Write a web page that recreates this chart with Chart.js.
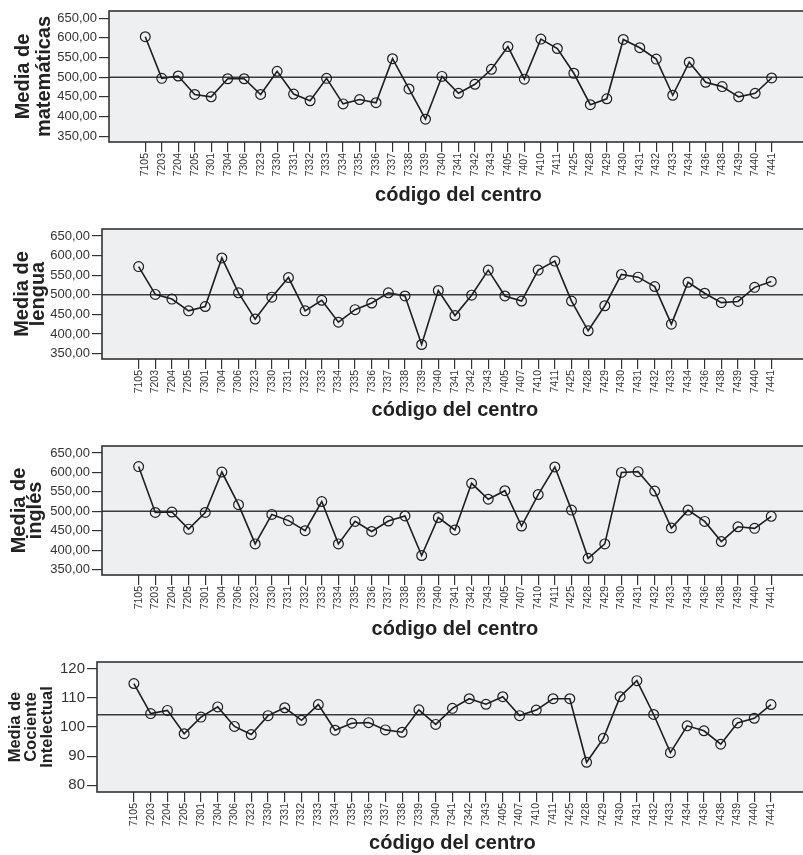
<!DOCTYPE html>
<html>
<head>
<meta charset="utf-8">
<script src="https://cdn.jsdelivr.net/npm/chart.js@4/dist/chart.umd.min.js"></script>
<style>
  html, body { margin: 0; padding: 0; background: #fff; overflow: hidden; }
  #wrap { position: relative; width: 803px; height: 855px; overflow: hidden; }
  #wrap canvas { position: absolute; left: 0; }
</style>
</head>
<body>
<div id="wrap">
  <canvas id="c1" width="814" height="215" style="top:0px"></canvas>
  <canvas id="c2" width="814" height="215" style="top:215px"></canvas>
  <canvas id="c3" width="814" height="215" style="top:430px"></canvas>
  <canvas id="c4" width="814" height="210" style="top:645px"></canvas>
</div>
<script>
// ==== DATA ====
const codes = ["7105", "7203", "7204", "7205", "7301", "7304", "7306", "7323", "7330", "7331",
  "7332", "7333", "7334", "7335", "7336", "7337", "7338", "7339", "7340", "7341",
  "7342", "7343", "7405", "7407", "7410", "7411", "7425", "7428", "7429", "7430",
  "7431", "7432", "7433", "7434", "7436", "7438", "7439", "7440", "7441"];

const mathMeans = [603, 497, 503, 456, 450, 496, 496, 456, 515, 457,
  440, 497, 432, 443, 435, 547, 470, 393, 502, 459,
  482, 520, 578, 495, 597, 573, 510, 430, 445, 596,
  575, 546, 454, 538, 487, 476, 450, 459, 498];

const langMeans = [572, 501, 489, 459, 470, 594, 505, 438, 494, 544,
  459, 486, 430, 462, 479, 505, 497, 373, 511, 447,
  499, 563, 497, 484, 563, 586, 484, 408, 472, 552,
  545, 521, 425, 532, 504, 480, 483, 519, 534];

const englishMeans = [615, 497, 498, 454, 497, 601, 517, 416, 492, 476,
  450, 525, 416, 474, 448, 475, 488, 386, 484, 452,
  572, 531, 553, 462, 543, 614, 503, 379, 416, 600,
  602, 552, 457, 503, 474, 422, 460, 456, 487];

const iqMeans = [114.9, 104.6, 105.7, 97.7, 103.4, 106.9, 100.2, 97.4, 103.9, 106.6,
  102.3, 107.7, 98.9, 101.3, 101.5, 99.0, 98.2, 105.9, 100.9, 106.4,
  109.7, 107.8, 110.4, 103.9, 105.8, 109.7, 109.7, 87.9, 96.1, 110.4,
  115.9, 104.3, 91.2, 100.4, 98.7, 94.1, 101.4, 103.0, 107.7];

const scoreTicks = [350, 400, 450, 500, 550, 600, 650];
const iqTicks = [80, 90, 100, 110, 120];

const scoreRef = 500;
const iqRef = 104.2;

const xTitle = "código del centro";

// ==== STYLE ====
const FONT = "'Liberation Sans', Arial, Helvetica, sans-serif";
const INK = "#1e1e1e";
const TEXT = "#333333";
const PLOT_BG = "#eeeff1";

// background, reference line and frame of the plot area
const framePlugin = {
  id: "frame",
  beforeDraw(chart) {
    const a = chart.chartArea;
    const ctx = chart.ctx;
    ctx.save();
    ctx.fillStyle = PLOT_BG;
    ctx.fillRect(a.left, a.top, a.right - a.left, a.bottom - a.top);
    ctx.restore();
  },
  beforeDatasetsDraw(chart, args, opts) {
    const a = chart.chartArea;
    const ctx = chart.ctx;
    const y = chart.scales.y.getPixelForValue(opts.ref);
    ctx.save();
    ctx.strokeStyle = "#3c3c3c";
    ctx.lineWidth = 1.5;
    ctx.beginPath();
    ctx.moveTo(a.left, y);
    ctx.lineTo(a.right, y);
    ctx.stroke();
    ctx.restore();
  },
  afterDatasetsDraw(chart) {
    const a = chart.chartArea;
    const ctx = chart.ctx;
    ctx.save();
    ctx.strokeStyle = "#333333";
    ctx.lineWidth = 1.6;
    ctx.strokeRect(a.left, a.top, a.right - a.left, a.bottom - a.top);
    ctx.restore();
  }
};

function makePanel(cfg) {
  const points = codes.map((c, i) => ({ x: i, y: cfg.values[i] }));

  return new Chart(document.getElementById(cfg.id), {
    type: "line",
    data: {
      datasets: [{
        data: points,
        borderColor: INK,
        borderWidth: 1.6,
        tension: 0,
        pointRadius: 4.9,
        pointBorderWidth: 1.2,
        pointBorderColor: INK,
        pointBackgroundColor: "rgba(0,0,0,0)",
        fill: false
      }]
    },
    options: {
      responsive: false,
      animation: false,
      devicePixelRatio: 1,
      layout: { padding: { top: cfg.plotTop, left: 0, right: 0, bottom: 0 } },
      plugins: {
        legend: { display: false },
        tooltip: { enabled: false },
        frame: { ref: cfg.ref }
      },
      scales: {
        x: {
          type: "linear",
          min: -2.2,
          max: 40.2,
          afterBuildTicks: s => { s.ticks = codes.map((c, i) => ({ value: i })); },
          afterFit: s => { s.height = cfg.h - cfg.plotBottom; },
          border: { display: false },
          grid: { drawOnChartArea: false, drawTicks: true, tickLength: 10, tickColor: "#333", lineWidth: 1.2 },
          ticks: {
            autoSkip: false,
            minRotation: 90,
            maxRotation: 90,
            padding: 1,
            color: TEXT,
            font: { family: FONT, size: 10.5 },
            callback: v => codes[v]
          },
          title: {
            display: true,
            text: xTitle,
            color: "#222",
            font: { family: FONT, size: 20, weight: "bold", lineHeight: 1.2 },
            padding: { top: 0, bottom: cfg.xTitlePad }
          }
        },
        y: {
          min: cfg.min,
          max: cfg.max,
          afterBuildTicks: s => { s.ticks = cfg.ticks.map(v => ({ value: v })); },
          afterFit: s => { s.width = cfg.plotLeft; },
          border: { display: false },
          grid: { drawOnChartArea: false, drawTicks: true, tickLength: 10, tickColor: "#333", lineWidth: 1.2 },
          ticks: {
            padding: 2,
            color: TEXT,
            font: { family: FONT, size: cfg.tickSize },
            callback: cfg.fmt
          },
          title: {
            display: true,
            text: cfg.title,
            color: "#222",
            font: { family: FONT, size: cfg.titleSize, weight: "bold", lineHeight: cfg.titleLine },
            padding: { top: cfg.titlePad, bottom: 0 }
          }
        }
      }
    },
    plugins: [framePlugin]
  });
}

const scoreFmt = v => v.toFixed(2).replace(".", ",");
const iqFmt = v => String(v);

makePanel({
  id: "c1", values: mathMeans, ref: scoreRef, ticks: scoreTicks, min: 335, max: 668.5, fmt: scoreFmt,
  h: 215, plotTop: 11, plotBottom: 142, plotLeft: 109, xTitlePad: 8,
  title: ["Media de", "matemáticas"], titleSize: 20, titleLine: 21 / 20, titlePad: 13, tickSize: 13
});

makePanel({
  id: "c2", values: langMeans, ref: scoreRef, ticks: scoreTicks, min: 336, max: 668, fmt: scoreFmt,
  h: 215, plotTop: 14, plotBottom: 144, plotLeft: 102, xTitlePad: 8,
  title: ["Media de", "lengua"], titleSize: 20, titleLine: 16 / 20, titlePad: 14.5, tickSize: 13
});

makePanel({
  id: "c3", values: englishMeans, ref: scoreRef, ticks: scoreTicks, min: 336, max: 668, fmt: scoreFmt,
  h: 215, plotTop: 16, plotBottom: 145, plotLeft: 102, xTitlePad: 4,
  title: ["Media de", "inglés"], titleSize: 20, titleLine: 16.5 / 20, titlePad: 11, tickSize: 13
});

makePanel({
  id: "c4", values: iqMeans, ref: iqRef, ticks: iqTicks, min: 77.7, max: 122.3, fmt: iqFmt,
  h: 210, plotTop: 17, plotBottom: 147, plotLeft: 97, xTitlePad: 0,
  title: ["Media de", "Cociente", "Intelectual"], titleSize: 16.5, titleLine: 16 / 16.5, titlePad: 7, tickSize: 15
});
</script>
</body>
</html>
